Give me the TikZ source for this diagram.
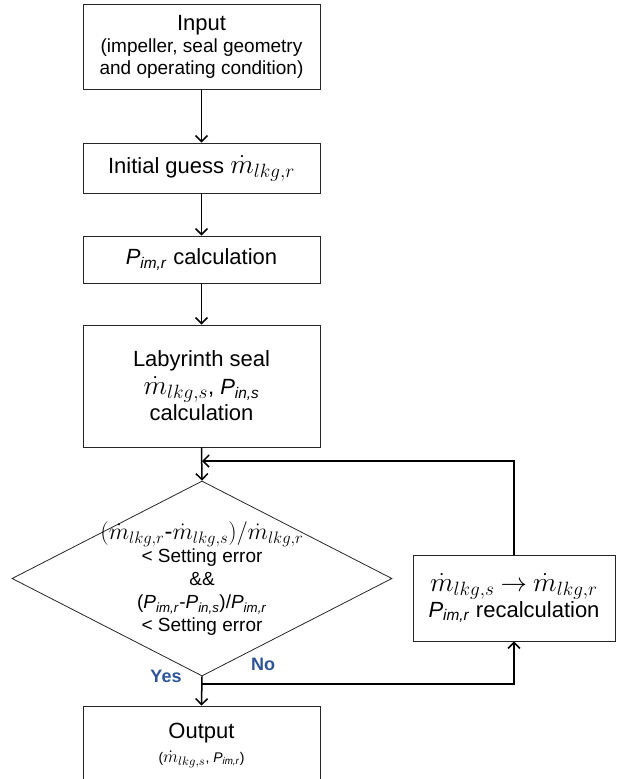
\RequirePackage{fix-cm}
\documentclass[tikz,border=0pt]{standalone}
\usepackage{graphicx}
\usepackage{fontspec}
\setmainfont{Liberation Sans}
\usetikzlibrary{arrows.meta,shapes.geometric}
\newcommand{\Pimr}{\textit{P}\textsubscript{\textit{im,r}}}
\newcommand{\Pins}{\textit{P}\textsubscript{\textit{in,s}}}
\newcommand{\mdr}{\scalebox{1.25}{$\dot{m}_{lkg,r}$}}
\newcommand{\mds}{\scalebox{1.25}{$\dot{m}_{lkg,s}$}}
\definecolor{lblblue}{RGB}{47,84,150}
\begin{document}
\begin{tikzpicture}[x=1pt,y=-1pt,
  box/.style={draw=black!85,line width=0.8pt,minimum width=237pt,align=center,inner sep=2pt,font=\fontsize{22}{26}\selectfont},
  arr/.style={line width=1.5pt,-{Straight Barb[length=6pt,width=12pt]}},
  lbl/.style={text=lblblue,font=\fontsize{18}{20}\selectfont\bfseries}]
\useasboundingbox (0,0) rectangle (618,779);
\node[box,minimum height=85pt] (in) at (201.5,46.5)
  {Input\\[-4pt]{\fontsize{19}{24}\selectfont (impeller, seal geometry}\\[-4pt]{\fontsize{19}{24}\selectfont and operating condition)}};
\node[box,minimum height=50pt] (guess) at (201.5,168) {Initial guess \mdr};
\node[box,minimum height=47pt] (pim) at (201.5,259.5) {\Pimr{} calculation};
\node[box,minimum height=122pt] (lab) at (201.5,386) {Labyrinth seal\\[2pt]\mds, \Pins\\calculation};
\node[diamond,draw=black!85,line width=0.8pt,minimum width=380pt,minimum height=195pt,inner sep=0pt] (dia) at (202,578.5) {};
\node[align=center,font=\fontsize{19}{23}\selectfont] (diatext) at (202,579)
  {\scalebox{1.25}{$(\dot m_{lkg,r}$-$\dot m_{lkg,s})/\dot m_{lkg,r}$}\\< Setting error\\\&\&\\(\Pimr-\Pins)/\Pimr\\< Setting error};
\node[box,minimum width=202pt,minimum height=86pt] (rec) at (514,598) {\mds{} \scalebox{1.2}{$\rightarrow$} \mdr\\\Pimr{} recalculation};
\node[box,minimum height=79pt] (out) at (201.5,745.5) {Output\\[-2pt]{\fontsize{14}{16}\selectfont(\mds, \Pimr)}};
\coordinate (j1) at (202,461);
\coordinate (j2) at (202,684);
\draw[arr] (in) -- (guess);
\draw[arr] (guess) -- (pim);
\draw[arr] (pim) -- (lab);
\draw[arr] (lab.south) -- (dia.north);
\draw[arr] (rec.north) |- (j1);
\draw[arr] (dia.south) -- (out.north);
\draw[arr] (j2) -| (rec.south);
\node[lbl] (yes) at (166,676) {Yes};
\node[lbl] (no) at (263,664) {No};
\end{tikzpicture}
\end{document}
